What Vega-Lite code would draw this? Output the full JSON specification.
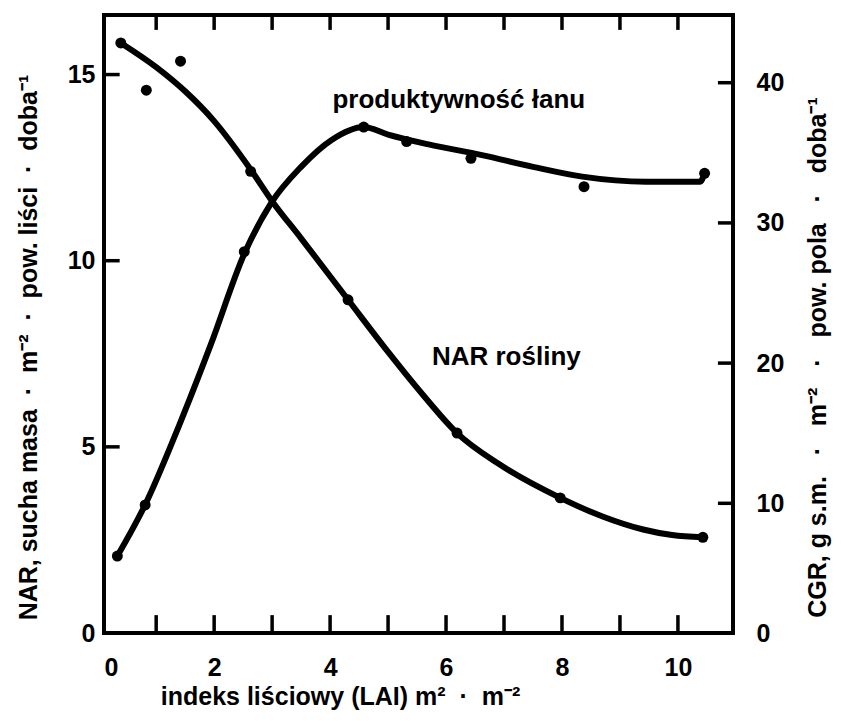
{
  "$schema": "https://vega.github.io/schema/vega-lite/v6.json",
  "width": 629,
  "height": 618,
  "autosize": {"type": "none"},
  "padding": {"left": 104, "top": 15, "right": 108, "bottom": 88},
  "background": "white",
  "config": {
    "view": {"stroke": "black", "strokeWidth": 4},
    "font": "Liberation Sans",
    "axis": {
      "domain": false,
      "ticks": false,
      "grid": false,
      "labelFont": "Liberation Sans",
      "labelFontWeight": "bold",
      "labelFontSize": 25,
      "labelColor": "black",
      "titleFont": "Liberation Sans",
      "titleFontWeight": "bold",
      "titleFontSize": 25,
      "titleColor": "black"
    }
  },
  "datasets": {
    "nar_pts": [
      {"lai": 0.39, "nar": 15.85},
      {"lai": 0.83, "nar": 14.58},
      {"lai": 1.42, "nar": 15.36},
      {"lai": 2.63, "nar": 12.4},
      {"lai": 4.31, "nar": 8.95},
      {"lai": 6.19, "nar": 5.37},
      {"lai": 7.97, "nar": 3.63},
      {"lai": 10.43, "nar": 2.57}
    ],
    "nar_fit": [
      {"lai": 0.39, "nar": 15.85},
      {"lai": 1.0, "nar": 15.2},
      {"lai": 1.5, "nar": 14.55},
      {"lai": 2.0, "nar": 13.75},
      {"lai": 2.63, "nar": 12.45},
      {"lai": 3.0, "nar": 11.6},
      {"lai": 3.5, "nar": 10.6},
      {"lai": 4.31, "nar": 8.95},
      {"lai": 5.0, "nar": 7.55},
      {"lai": 5.6, "nar": 6.4},
      {"lai": 6.19, "nar": 5.37},
      {"lai": 6.9, "nar": 4.55},
      {"lai": 7.97, "nar": 3.63},
      {"lai": 8.7, "nar": 3.13},
      {"lai": 9.4, "nar": 2.78},
      {"lai": 9.9, "nar": 2.63},
      {"lai": 10.43, "nar": 2.57}
    ],
    "cgr_pts": [
      {"lai": 0.33, "cgr": 6.24},
      {"lai": 0.81, "cgr": 9.88},
      {"lai": 2.52, "cgr": 27.95},
      {"lai": 4.58, "cgr": 36.84},
      {"lai": 5.32, "cgr": 35.8},
      {"lai": 6.43, "cgr": 34.61},
      {"lai": 8.38, "cgr": 32.58},
      {"lai": 10.46, "cgr": 33.54}
    ],
    "cgr_fit": [
      {"lai": 0.33, "cgr": 6.24},
      {"lai": 0.81, "cgr": 9.9},
      {"lai": 1.4, "cgr": 15.6},
      {"lai": 1.94, "cgr": 21.3},
      {"lai": 2.52, "cgr": 27.8},
      {"lai": 2.98, "cgr": 31.4},
      {"lai": 3.5, "cgr": 34.0},
      {"lai": 4.02, "cgr": 35.9},
      {"lai": 4.58, "cgr": 36.84},
      {"lai": 5.0, "cgr": 36.3},
      {"lai": 5.7, "cgr": 35.6},
      {"lai": 6.62, "cgr": 34.84},
      {"lai": 7.5, "cgr": 34.0},
      {"lai": 8.35, "cgr": 33.3},
      {"lai": 9.45, "cgr": 32.94},
      {"lai": 10.38, "cgr": 32.94},
      {"lai": 10.46, "cgr": 33.54}
    ],
    "labels": [
      {"lai": 6.22, "nar": 14.33, "label": "produktywność łanu"},
      {"lai": 7.04, "nar": 7.42, "label": "NAR rośliny"}
    ],
    "x_ticks": [
      {"lai": 1}, {"lai": 2}, {"lai": 3}, {"lai": 4}, {"lai": 5},
      {"lai": 6}, {"lai": 7}, {"lai": 8}, {"lai": 9}, {"lai": 10}
    ],
    "nar_ticks": [{"nar": 5}, {"nar": 10}, {"nar": 15}],
    "cgr_ticks": [{"cgr": 10}, {"cgr": 20}, {"cgr": 30}, {"cgr": 40}]
  },
  "layer": [
    {
      "layer": [
        {
          "data": {"name": "nar_fit"},
          "mark": {"type": "line", "interpolate": "monotone", "color": "black", "strokeWidth": 6, "strokeCap": "round", "strokeJoin": "round"},
          "encoding": {
            "x": {
              "field": "lai", "type": "quantitative",
              "scale": {"domain": [0.1, 10.95], "nice": false, "zero": false},
              "axis": {
                "orient": "bottom",
                "values": [0.1, 2, 4, 6, 8, 10],
                "format": "d",
                "labelExpr": "datum.value < 0.5 ? '0' : datum.label",
                "labelPadding": 22,
                "labelOverlap": false,
                "title": "indeks liściowy (LAI) m²\u00a0\u00a0·\u00a0\u00a0m⁻²",
                "titleX": 236,
                "titlePadding": 4
              }
            },
            "y": {
              "field": "nar", "type": "quantitative",
              "scale": {"domain": [0, 16.6], "nice": false},
              "axis": {
                "orient": "left",
                "values": [0, 5, 10, 15],
                "labelPadding": 9,
                "title": "NAR, sucha masa\u00a0\u00a0·\u00a0\u00a0m⁻²\u00a0\u00a0·\u00a0\u00a0pow. liści\u00a0\u00a0·\u00a0\u00a0doba⁻¹",
                "titleY": 332,
                "titlePadding": 26
              }
            }
          }
        },
        {
          "data": {"name": "nar_pts"},
          "mark": {"type": "circle", "color": "black", "size": 120, "opacity": 1},
          "encoding": {
            "x": {"field": "lai", "type": "quantitative"},
            "y": {"field": "nar", "type": "quantitative"}
          }
        },
        {
          "data": {"name": "labels"},
          "mark": {"type": "text", "font": "Liberation Sans", "fontWeight": "bold", "fontSize": 26, "color": "black", "align": "center", "baseline": "middle"},
          "encoding": {
            "x": {"field": "lai", "type": "quantitative"},
            "y": {"field": "nar", "type": "quantitative"},
            "text": {"field": "label"}
          }
        },
        {
          "data": {"name": "x_ticks"},
          "mark": {"type": "rule", "color": "black", "strokeWidth": 3.5, "opacity": 1},
          "encoding": {
            "x": {"field": "lai", "type": "quantitative"},
            "y": {"datum": 0},
            "y2": {"datum": 0.48}
          }
        },
        {
          "data": {"name": "x_ticks"},
          "mark": {"type": "rule", "color": "black", "strokeWidth": 3.5, "opacity": 1},
          "encoding": {
            "x": {"field": "lai", "type": "quantitative"},
            "y": {"datum": 16.6},
            "y2": {"datum": 16.2}
          }
        },
        {
          "data": {"name": "nar_ticks"},
          "mark": {"type": "rule", "color": "black", "strokeWidth": 3.5, "opacity": 1},
          "encoding": {
            "x": {"datum": 0.1},
            "x2": {"datum": 0.37},
            "y": {"field": "nar", "type": "quantitative"}
          }
        }
      ]
    },
    {
      "layer": [
        {
          "data": {"name": "cgr_fit"},
          "mark": {"type": "line", "interpolate": "monotone", "color": "black", "strokeWidth": 6, "strokeCap": "round", "strokeJoin": "round"},
          "encoding": {
            "x": {
              "field": "lai", "type": "quantitative",
              "scale": {"domain": [0.1, 10.95], "nice": false, "zero": false},
              "axis": null
            },
            "y": {
              "field": "cgr", "type": "quantitative",
              "scale": {"domain": [0.75, 44.83], "nice": false, "zero": false},
              "axis": {
                "orient": "right",
                "values": [0.75, 10, 20, 30, 40],
                "labelExpr": "datum.value < 1 ? '0' : datum.label",
                "labelPadding": 23,
                "title": "CGR, g s.m.\u00a0\u00a0\u00a0·\u00a0\u00a0\u00a0m⁻²\u00a0\u00a0\u00a0·\u00a0\u00a0\u00a0pow. pola\u00a0\u00a0\u00a0·\u00a0\u00a0\u00a0doba⁻¹",
                "titleAngle": 270,
                "titleY": 342,
                "titlePadding": 47
              }
            }
          }
        },
        {
          "data": {"name": "cgr_pts"},
          "mark": {"type": "circle", "color": "black", "size": 120, "opacity": 1},
          "encoding": {
            "x": {"field": "lai", "type": "quantitative"},
            "y": {"field": "cgr", "type": "quantitative"}
          }
        },
        {
          "data": {"name": "cgr_ticks"},
          "mark": {"type": "rule", "color": "black", "strokeWidth": 3.5, "opacity": 1},
          "encoding": {
            "x": {"datum": 10.95},
            "x2": {"datum": 10.69},
            "y": {"field": "cgr", "type": "quantitative"}
          }
        }
      ]
    }
  ],
  "resolve": {"scale": {"y": "independent"}, "axis": {"x": "independent"}}
}
